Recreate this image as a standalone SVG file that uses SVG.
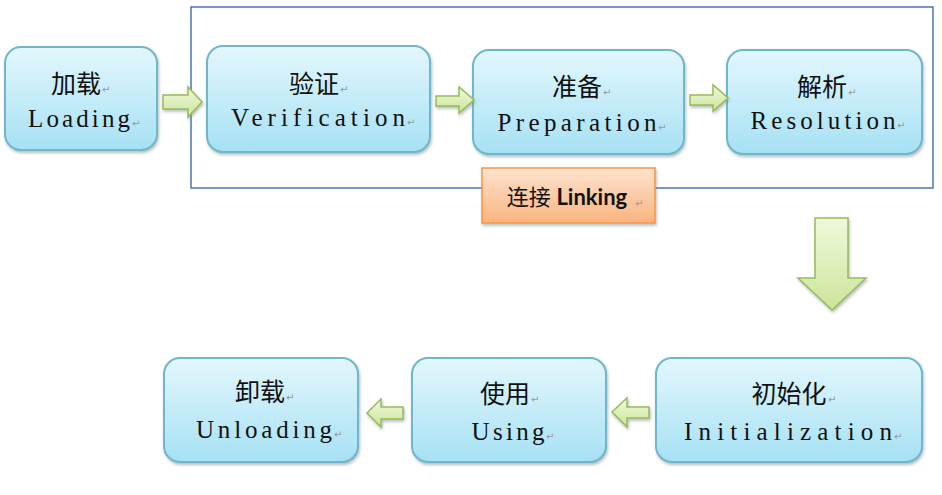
<svg xmlns="http://www.w3.org/2000/svg" width="942" height="495" viewBox="0 0 942 495">
<defs>
<linearGradient id="gBlue" x1="0" y1="0" x2="0" y2="1">
<stop offset="0" stop-color="#e3f7fd"/>
<stop offset="1" stop-color="#a6e1f4"/>
</linearGradient>
<linearGradient id="gOrange" x1="0" y1="0" x2="0" y2="1">
<stop offset="0" stop-color="#fde3cf"/>
<stop offset="1" stop-color="#f9b47f"/>
</linearGradient>
<linearGradient id="gGreen" x1="0" y1="0" x2="0" y2="1">
<stop offset="0" stop-color="#f0f9dc"/>
<stop offset="1" stop-color="#cbe59a"/>
</linearGradient>
<filter id="sh" x="-10%" y="-10%" width="125%" height="130%">
<feDropShadow dx="1" dy="2" stdDeviation="1.6" flood-color="#7a8a90" flood-opacity="0.55"/>
</filter>
</defs>
<style>
.box{fill:url(#gBlue);stroke:#6fb7c9;stroke-width:2;filter:url(#sh)}
.cn{font-family:"Noto Sans CJK SC",sans-serif;font-size:25px;fill:#111;text-anchor:middle}
.en{font-family:"Liberation Serif",serif;font-size:25px;fill:#111;text-anchor:middle}
.pm{font-family:"DejaVu Sans",sans-serif;font-size:10px;fill:#999}
.arr{fill:url(#gGreen);stroke:#9bbb59;stroke-width:1.5;stroke-linejoin:miter;filter:url(#sh)}
</style>
<rect x="191" y="7" width="742" height="181" fill="none" stroke="#4f74b3" stroke-width="1.5"/>
<g id="loading">
<rect class="box" x="5" y="47" width="152" height="103" rx="16"/>
<text class="cn" x="76" y="93">加载</text><text class="pm" x="102" y="93">↵</text>
<text class="en" x="79" y="127" textLength="102" lengthAdjust="spacing">Loading</text><text class="pm" x="132" y="127">↵</text>
</g>
<g id="verification">
<rect class="box" x="207" y="46" width="223" height="106" rx="16"/>
<text class="cn" x="314" y="93">验证</text><text class="pm" x="340" y="93">↵</text>
<text class="en" x="318" y="126" textLength="174" lengthAdjust="spacing">Verification</text><text class="pm" x="407" y="126">↵</text>
</g>
<g id="preparation">
<rect class="box" x="473" y="50" width="211" height="104" rx="16"/>
<text class="cn" x="577" y="96">准备</text><text class="pm" x="603" y="96">↵</text>
<text class="en" x="577" y="131" textLength="159" lengthAdjust="spacing">Preparation</text><text class="pm" x="658" y="131">↵</text>
</g>
<g id="resolution">
<rect class="box" x="727" y="50" width="195" height="104" rx="16"/>
<text class="cn" x="822" y="96">解析</text><text class="pm" x="848" y="96">↵</text>
<text class="en" x="823" y="129" textLength="145" lengthAdjust="spacing">Resolution</text><text class="pm" x="897" y="129">↵</text>
</g>
<g id="linking">
<rect x="482" y="168" width="173" height="55" fill="url(#gOrange)" stroke="#f79646" stroke-width="1.5" filter="url(#sh)"/>
<text x="567" y="205" text-anchor="middle" font-family="Lato,'Noto Sans CJK SC',sans-serif" font-size="22" fill="#111"><tspan font-family="'Noto Sans CJK SC',sans-serif">连接</tspan> <tspan font-weight="bold">Linking</tspan></text><text class="pm" x="635" y="207">↵</text>
</g>
<g id="initialization">
<rect class="box" x="656" y="358" width="266" height="104" rx="16"/>
<text class="cn" x="789" y="403">初始化</text><text class="pm" x="828" y="403">↵</text>
<text class="en" x="788" y="440" textLength="208" lengthAdjust="spacing">Initialization</text><text class="pm" x="894" y="440">↵</text>
</g>
<g id="using">
<rect class="box" x="412" y="358" width="194" height="104" rx="16"/>
<text class="cn" x="505" y="403">使用</text><text class="pm" x="531" y="403">↵</text>
<text class="en" x="508" y="440" textLength="73" lengthAdjust="spacing">Using</text><text class="pm" x="546" y="440">↵</text>
</g>
<g id="unloading">
<rect class="box" x="164" y="358" width="194" height="104" rx="16"/>
<text class="cn" x="260" y="401">卸载</text><text class="pm" x="286" y="401">↵</text>
<text class="en" x="264" y="438" textLength="136" lengthAdjust="spacing">Unloading</text><text class="pm" x="334" y="438">↵</text>
</g>
<g id="connectors">
<polygon class="arr" points="163,95 188,95 188,87 202,102 188,117 188,109 163,109"/>
<polygon class="arr" points="436,96 459,96 459,87 474,100 459,113 459,106 436,106"/>
<polygon class="arr" points="690,95 713,95 713,85 728,98 713,111 713,105 690,105"/>
<polygon class="arr" points="815,218 848,218 848,278 866,278 832,310 798,278 815,278"/>
<polygon class="arr" points="649,407 627,407 627,398 612,412 627,427 627,418 649,418"/>
<polygon class="arr" points="403,407 381,407 381,399 367,413 381,427 381,419 403,419"/>
</g>
</svg>
